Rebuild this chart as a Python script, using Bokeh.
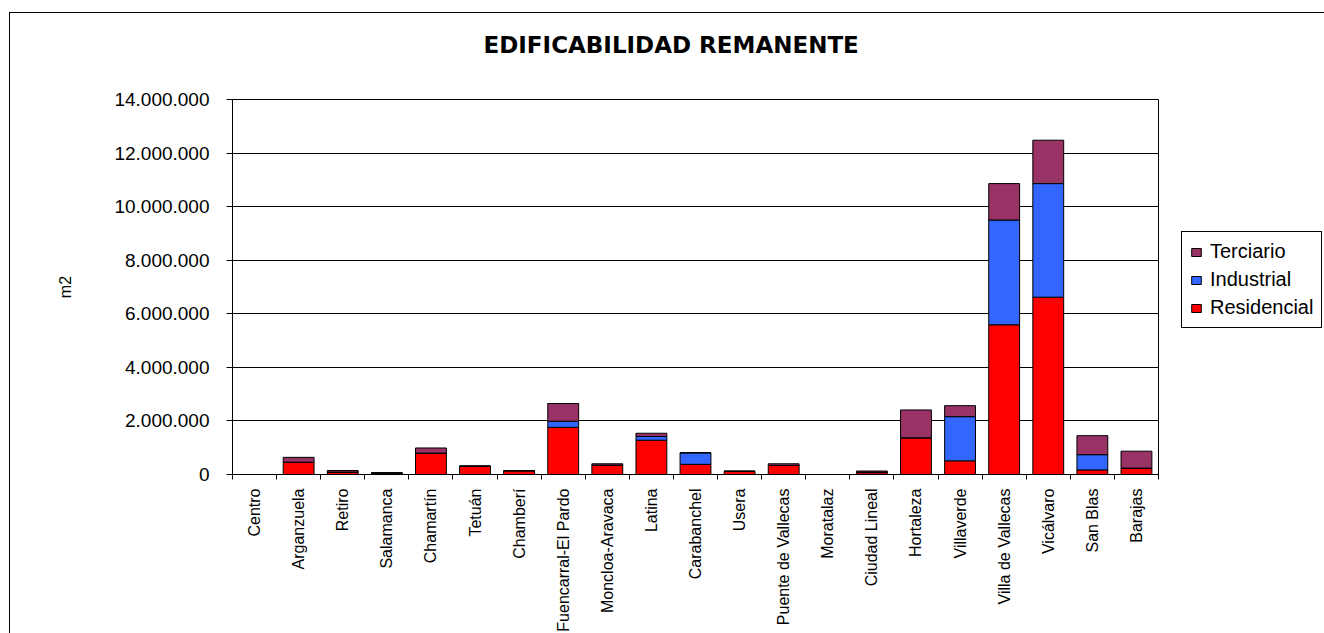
from bokeh.plotting import figure
from bokeh.layouts import row
from bokeh.models import FixedTicker, Legend, LegendItem, ColumnDataSource, Range1d
from bokeh.embed import file_html
from bokeh.resources import INLINE
import math

districts = ["Centro", "Arganzuela", "Retiro", "Salamanca", "Chamartín", "Tetuán",
             "Chamberí", "Fuencarral-El Pardo", "Moncloa-Aravaca", "Latina",
             "Carabanchel", "Usera", "Puente de Vallecas", "Moratalaz",
             "Ciudad Lineal", "Hortaleza", "Villaverde", "Villa de Vallecas",
             "Vicálvaro", "San Blas", "Barajas"]

residencial = [0, 460000, 90000, 50000, 800000, 310000, 140000, 1760000, 350000,
               1280000, 380000, 120000, 340000, 0, 70000, 1370000, 510000,
               5590000, 6620000, 170000, 240000]
industrial = [0, 0, 0, 0, 0, 0, 0, 230000, 0, 140000, 430000, 0, 0, 0, 20000,
              0, 1650000, 3910000, 4240000, 570000, 0]
terciario = [0, 180000, 60000, 20000, 190000, 0, 0, 660000, 50000, 120000, 0, 0,
             60000, 0, 40000, 1040000, 410000, 1360000, 1620000, 710000, 630000]

series = ["Residencial", "Industrial", "Terciario"]
colors = ["#FF0000", "#3366FF", "#993366"]

y_ticks = [0, 2000000, 4000000, 6000000, 8000000, 10000000, 12000000, 14000000]

n = len(districts)
centers = [i + 0.5 for i in range(n)]

source = ColumnDataSource(dict(x=centers, Residencial=residencial,
                               Industrial=industrial, Terciario=terciario))

W_MAIN = 1150
W_LEG = 165
H = 621

p = figure(width=W_MAIN, height=H, output_backend="svg", toolbar_location=None,
           x_range=Range1d(0, n), y_range=Range1d(0, 14000000),
           min_border_left=222, min_border_right=2, min_border_top=82,
           min_border_bottom=156)

renderers = p.vbar_stack(series, x="x", width=0.7, source=source,
                         fill_color=colors, line_color="black", line_width=1)

# title (trailing empty line lifts the text away from the frame)
p.title.text = "EDIFICABILIDAD REMANENTE\n"
p.title.text_font = "DejaVu Sans"
p.title.text_font_style = "bold"
p.title.text_font_size = "23px"
p.title.text_color = "black"
p.title.align = "left"
p.title.offset = 251
p.title.standoff = 32

# frame
p.outline_line_color = "black"
p.outline_line_width = 1
p.background_fill_color = "white"
p.border_fill_color = "white"

# x axis
xax = p.xaxis[0]
xax.ticker = FixedTicker(ticks=centers, minor_ticks=list(range(n + 1)))
xax.major_label_overrides = {c: d for c, d in zip(centers, districts)}
xax.major_label_orientation = math.pi / 2
xax.major_tick_out = 0
xax.major_tick_in = 0
xax.major_tick_line_color = None
xax.minor_tick_out = 5
xax.minor_tick_in = 0
xax.minor_tick_line_color = "black"
xax.axis_line_color = "black"
xax.major_label_standoff = 9
xax.major_label_text_font = "Liberation Sans"
xax.major_label_text_font_size = "16px"
xax.major_label_text_color = "black"

# y axis
yax = p.yaxis[0]
yax.ticker = FixedTicker(ticks=y_ticks)
yax.major_label_overrides = {v: f"{v:,}".replace(",", ".") for v in y_ticks}
yax.major_tick_out = 6
yax.major_tick_in = 0
yax.major_tick_line_color = "black"
yax.minor_tick_line_color = None
yax.axis_line_color = "black"
yax.major_label_standoff = 17
yax.major_label_text_font = "Liberation Sans"
yax.major_label_text_font_size = "19px"
yax.major_label_text_color = "black"
yax.axis_label = "m2"
yax.axis_label_text_font = "Liberation Sans"
yax.axis_label_text_font_size = "16px"
yax.axis_label_text_font_style = "normal"
yax.axis_label_text_color = "black"
yax.axis_label_standoff = 37

p.xgrid.visible = False
p.ygrid.grid_line_color = "black"
p.ygrid.grid_line_alpha = 1
p.ygrid.grid_line_width = 1

# legend panel: a second figure that only shows the legend
lp = figure(width=W_LEG, height=H, output_backend="svg", toolbar_location=None,
            x_range=Range1d(100, 101), y_range=Range1d(0, 14000000),
            x_axis_location=None, y_axis_location=None, min_border=0)
lp.grid.visible = False
lp.outline_line_color = None
lp.background_fill_color = "white"
lp.border_fill_color = "white"
leg_renderers = lp.vbar_stack(series, x="x", width=0.7, source=source,
                              fill_color=colors, line_color="black", line_width=1,
                              visible=False)

legend = Legend(items=[LegendItem(label=s, renderers=[r])
                       for s, r in reversed(list(zip(series, leg_renderers)))],
                location=(21, 146))
legend.border_line_color = "black"
legend.border_line_width = 1
legend.border_line_alpha = 1
legend.background_fill_alpha = 1
legend.label_text_font = "Liberation Sans"
legend.label_text_font_size = "20px"
legend.label_text_color = "black"
legend.glyph_width = 12
legend.glyph_height = 10
legend.label_standoff = 8
legend.padding = 8
legend.spacing = 5
legend.label_height = 20
legend.margin = 0
lp.add_layout(legend, "center")

layout = row(p, lp, spacing=0)
layout.styles = {"margin-left": "9px", "margin-top": "12px",
                 "border-top": "1px solid #000", "border-left": "1px solid #000"}

open("out.html", "w").write(file_html(layout, INLINE))
